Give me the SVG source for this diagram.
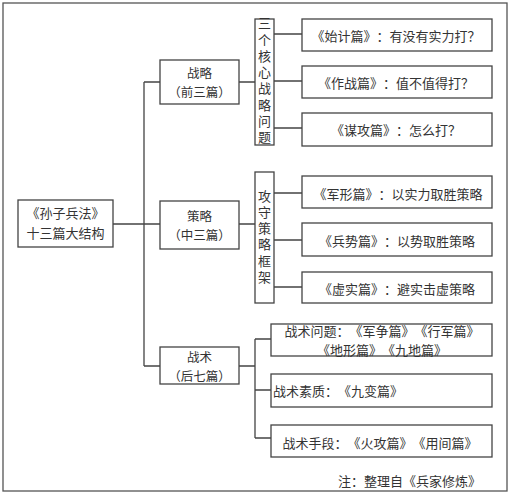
<svg xmlns="http://www.w3.org/2000/svg" width="510" height="494" viewBox="0 0 510 494">
<style>
.box{fill:#fff;stroke:#444;stroke-width:1.3}
.ln{fill:none;stroke:#444;stroke-width:1.3}
text{font-family:"Noto Sans CJK SC","Noto Sans CJK JP",sans-serif;font-size:13px;fill:#333;dominant-baseline:central;text-spacing-trim:space-all;font-feature-settings:"fwid" 1}
.c{text-anchor:middle}
.s{font-size:12.5px}
.v{writing-mode:vertical-rl;text-anchor:middle;letter-spacing:3.3px}
</style>
<rect x="0" y="0" width="510" height="494" fill="#fff"/>
<rect x="3" y="3" width="504" height="488" fill="#fff" stroke="#555" stroke-width="1.3"/>
<g id="connectors">
<path class="ln" d="M113,224 H160 M144,82 V366 M144,82 H160 M144,366 H160"/>
<path class="ln" d="M239,82 H255 M274,34 H302 M274,81 H302 M274,128 H302"/>
<path class="ln" d="M239,224 H255 M274,193 H302 M274,240 H302 M274,287 H302"/>
<path class="ln" d="M239,366 H255 M255,339 V438 M255,339 H271 M255,390 H271 M255,438 H271"/>
</g>
<g id="root"><rect class="box" x="18" y="200" width="95" height="47"/><text class="c" x="65.5" y="212">《孙子兵法》</text><text class="c" x="65.5" y="232">十三篇大结构</text></g>
<g id="zhanlue"><rect class="box" x="160" y="60" width="79" height="44"/><text class="c s" x="199.5" y="72.5">战略</text><text class="c s" x="199.5" y="91">（前三篇）</text></g>
<g id="celue"><rect class="box" x="160" y="201" width="79" height="48"/><text class="c s" x="199.5" y="215.5">策略</text><text class="c s" x="199.5" y="234">（中三篇）</text></g>
<g id="zhanshu"><rect class="box" x="160" y="347" width="79" height="37"/><text class="c s" x="199.5" y="356.5">战术</text><text class="c s" x="199.5" y="375">（后七篇）</text></g>
<g id="v1"><rect class="box" x="255" y="19" width="19" height="126"/>
<text class="v" x="264.5" y="82">三个核心战略问题</text></g>
<g id="v2"><rect class="box" x="255" y="172" width="19" height="131"/>
<text class="v" x="264.5" y="238">攻守策略框架</text></g>
<g id="l1"><rect class="box" x="302" y="19" width="190" height="32"/><text class="c" x="396" y="35">《始计篇》：有没有实力打？</text></g>
<g id="l2"><rect class="box" x="302" y="66" width="190" height="32"/><text class="c" x="396" y="82">《作战篇》：值不值得打？</text></g>
<g id="l3"><rect class="box" x="302" y="113" width="190" height="33"/><text class="c" x="396" y="129">《谋攻篇》：怎么打？</text></g>
<g id="l4"><rect class="box" x="302" y="176" width="190" height="32"/><text class="c" x="398" y="193">《军形篇》：以实力取胜策略</text></g>
<g id="l5"><rect class="box" x="302" y="223" width="190" height="33"/><text class="c" x="397" y="240">《兵势篇》：以势取胜策略</text></g>
<g id="l6"><rect class="box" x="302" y="272" width="190" height="31"/><text class="c" x="397" y="288">《虚实篇》：避实击虚策略</text></g>
<g id="l7"><rect class="box" x="271" y="324" width="221" height="32"/><text class="c" x="382" y="330">战术问题：《军争篇》《行军篇》</text><text class="c" x="382" y="349">《地形篇》《九地篇》</text></g>
<g id="l8"><rect class="box" x="271" y="374" width="221" height="33"/><text x="273" y="390">战术素质：《九变篇》</text></g>
<g id="l9"><rect class="box" x="271" y="425" width="221" height="32"/><text class="c" x="380" y="442">战术手段：《火攻篇》《用间篇》</text></g>
<text x="338" y="480">注：整理自《兵家修炼》</text>
</svg>
